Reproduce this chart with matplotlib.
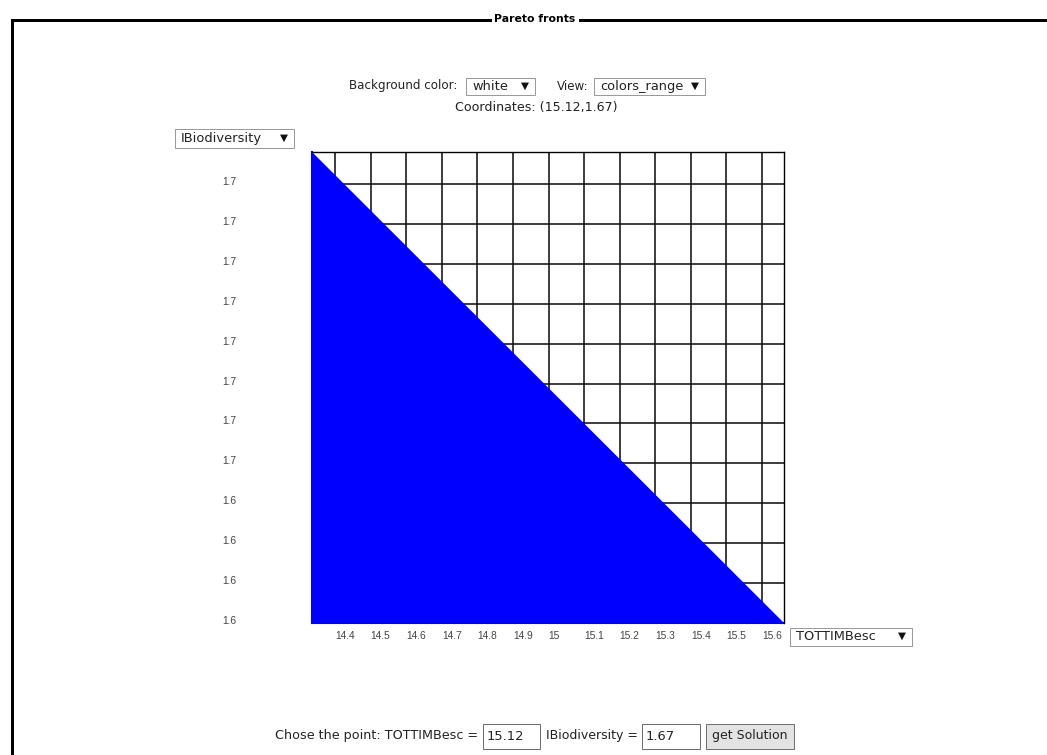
"""Pareto fronts panel: one front between TOTTIMBesc and IBiodiversity,
drawn as a filled region under the front on a cell grid, with the
surrounding form widgets of the original page."""

import matplotlib

matplotlib.use("Agg")
import matplotlib.pyplot as plt  # noqa: E402
from matplotlib.lines import Line2D  # noqa: E402
from matplotlib.patches import Rectangle  # noqa: E402
from matplotlib.transforms import ScaledTranslation  # noqa: E402

W, H = 1047, 755

x_name = "TOTTIMBesc"
y_name = "IBiodiversity"
x_ticks = [14.4, 14.5, 14.6, 14.7, 14.8, 14.9, 15.0, 15.1, 15.2, 15.3, 15.4, 15.5, 15.6]
x_labels = ["14.4", "14.5", "14.6", "14.7", "14.8", "14.9", "15",
            "15.1", "15.2", "15.3", "15.4", "15.5", "15.6"]
y_ticks = [1.72, 1.71, 1.70, 1.69, 1.68, 1.67, 1.66, 1.65, 1.64, 1.63, 1.62, 1.61]
y_labels = ["1.7", "1.7", "1.7", "1.7", "1.7", "1.7", "1.7", "1.7",
            "1.6", "1.6", "1.6", "1.6"]
front_x = [14.335, 15.662]
front_y = [1.728, 1.61]
chosen_x = "15.12"
chosen_y = "1.67"
bg_choice = "white"
view_choice = "colors_range"

TXT = "#222222"
FONT = "DejaVu Sans"
BLUE = "#0000ff"


def fx(x):
    return x / W


def fy(y):
    return 1 - y / H


def box(fig, x0, y0, x1, y1, ec="#a0a0a0", fc="white", lw=1.0):
    fig.add_artist(Rectangle((fx(x0), fy(y1)), (x1 - x0) / W, (y1 - y0) / H,
                             transform=fig.transFigure, ec=ec, fc=fc, lw=lw * 0.72))


def text(fig, x, y, s, ha="left", size=8.6, **kw):
    fig.text(fx(x), fy(y), s, ha=ha, va="center", family=FONT, size=size,
             color=kw.pop("color", TXT), **kw)


def dropdown(fig, x0, y0, x1, y1, label):
    box(fig, x0, y0, x1, y1, ec="#9a9a9a")
    mid = (y0 + y1) / 2
    text(fig, x0 + 6, mid, label, size=9.4)
    text(fig, x1 - 6, mid - 1, "▼", ha="right", size=7.5, color="#111111")


def main() -> None:
    fig = plt.figure(figsize=(W / 100, H / 100), dpi=100)
    fig.patch.set_facecolor("white")

    # fieldset frame with legend
    frame_lw = 3 * 0.72
    fig.add_artist(Line2D([fx(490), fx(12), fx(12)], [fy(20), fy(20), fy(755)],
                          transform=fig.transFigure, color="black", lw=frame_lw,
                          solid_joinstyle="miter"))
    fig.add_artist(Line2D([fx(580), fx(1047)], [fy(20), fy(20)],
                          transform=fig.transFigure, color="black", lw=frame_lw))
    text(fig, 535, 19, "Pareto fronts", ha="center", size=7.8, weight="bold", color="black")

    # header controls
    text(fig, 349, 86, "Background color:")
    dropdown(fig, 466, 78, 535, 95, bg_choice)
    text(fig, 557, 86, "View:")
    dropdown(fig, 594, 78, 705, 95, view_choice)
    text(fig, 536, 107, f"Coordinates: ({chosen_x},{chosen_y})", ha="center", size=9.1)

    # axis selectors
    dropdown(fig, 175, 129, 294, 148, y_name)
    dropdown(fig, 790, 628, 912, 646, x_name)

    # plot area
    ax = fig.add_axes([fx(312), fy(623), (784 - 312) / W, (623 - 152) / H])
    ax.set_xlim(front_x[0], front_x[1])
    ax.set_ylim(front_y[1], front_y[0])
    ax.fill_between(front_x, front_y, front_y[1], color=BLUE, lw=0, zorder=3)
    ax.set_xticks(x_ticks, x_labels)
    ax.set_yticks(y_ticks, y_labels)
    ax.grid(True, color="#111111", lw=1.15, zorder=1)
    ax.set_axisbelow(True)
    ax.tick_params(length=0, labelsize=7.4, labelcolor="#444444")
    ax.tick_params(axis="x", pad=6)
    ax.tick_params(axis="y", pad=76 * 0.72)
    for lab in ax.get_xticklabels():
        lab.set_family("Liberation Sans")
        lab.set_horizontalalignment("left")
    shift = ScaledTranslation(0, 3 / 100, fig.dpi_scale_trans)
    for lab in ax.get_yticklabels():
        lab.set_family("Liberation Sans")
        lab.set_transform(lab.get_transform() + shift)
    for side in ("left", "bottom"):
        ax.spines[side].set_color(BLUE)
        ax.spines[side].set_linewidth(1.5)
        ax.spines[side].set_zorder(3.5)
    for side in ("top", "right"):
        ax.spines[side].set_color("black")
        ax.spines[side].set_linewidth(1.0)
        ax.spines[side].set_zorder(4)

    # bottom form
    text(fig, 275, 736, f"Chose the point: {x_name} =", size=9.2)
    box(fig, 483, 724, 540, 749, ec="#6e6e6e")
    text(fig, 487, 736, chosen_x, size=9.4)
    text(fig, 546, 736, f"{y_name} =", size=9.0)
    box(fig, 642, 724, 700, 749, ec="#6e6e6e")
    text(fig, 646, 736, chosen_y, size=9.4)
    box(fig, 706, 724, 794, 749, ec="#707070", fc="#e3e3e3")
    text(fig, 750, 736, "get Solution", ha="center", size=9.0)

    fig.savefig("out.png", dpi=100, facecolor="white")


if __name__ == "__main__":
    main()
